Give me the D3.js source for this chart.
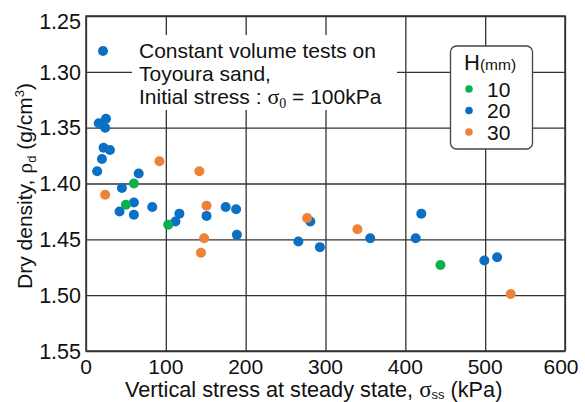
<!DOCTYPE html>
<html><head><meta charset="utf-8">
<script src="https://cdn.jsdelivr.net/npm/d3@7"></script>
<style>
body{margin:0;background:#fff}
svg{display:block}
text{font-family:Arial,"Liberation Sans",sans-serif;fill:#111}
.serif{font-family:"Liberation Serif","Times New Roman",serif}
</style>
</head><body>
<svg id="c" width="585" height="402"></svg>
<script>
// ---- data ----
const xTicks = [0, 100, 200, 300, 400, 500, 600];
const yTicks = [1.25, 1.30, 1.35, 1.40, 1.45, 1.50, 1.55];
const seriesNames = ["10", "20", "30"];
const seriesColors = ["#0DB04E", "#0B6FC4", "#EE8236"];

const h10Stress  = [60, 50, 103, 444];
const h10Density = [1.400, 1.419, 1.437, 1.473];

const h20Stress  = [16, 25, 24, 22, 30, 20, 14, 66, 45, 60, 42, 60, 83, 117, 112, 151, 175, 188, 189, 281, 266, 293, 356, 420, 413, 499, 515];
const h20Density = [1.346, 1.342, 1.350, 1.368, 1.370, 1.378, 1.389, 1.391, 1.404, 1.417, 1.425, 1.428, 1.421, 1.427, 1.434, 1.429, 1.421, 1.423, 1.446, 1.434, 1.452, 1.457, 1.449, 1.427, 1.449, 1.469, 1.466];

const h30Stress  = [24, 92, 142, 151, 148, 144, 277, 340, 532];
const h30Density = [1.410, 1.380, 1.389, 1.420, 1.449, 1.462, 1.431, 1.441, 1.499];

// ---- chart ----
const svg = d3.select("#c");
const L = 86, R = 565, T = 16, B = 351;
const x = d3.scaleLinear().domain([0, 600]).range([L, R]);
const y = d3.scaleLinear().domain([1.25, 1.55]).range([T, B]);
const gridColor = "#333";

// grid via axes
svg.append("g").attr("transform", `translate(0,${B})`)
  .call(d3.axisBottom(x).tickValues(xTicks).tickSize(-(B - T)).tickFormat(""))
  .call(g => g.select(".domain").remove())
  .call(g => g.selectAll("line").attr("stroke", gridColor).attr("stroke-width", 1.3));
svg.append("g").attr("transform", `translate(${L},0)`)
  .call(d3.axisLeft(y).tickValues(yTicks).tickSize(-(R - L)).tickFormat(""))
  .call(g => g.select(".domain").remove())
  .call(g => g.selectAll("line").attr("stroke", gridColor).attr("stroke-width", 1.3));

// frame
svg.append("rect").attr("x", L).attr("y", T).attr("width", R - L).attr("height", B - T)
  .attr("fill", "none").attr("stroke", gridColor).attr("stroke-width", 1.5);

// tick labels
svg.append("g").selectAll("text").data(yTicks).join("text")
  .attr("x", 81).attr("y", (d, i) => y(d) + (i === 0 ? 5 : 0)).attr("dy", "0.36em")
  .attr("text-anchor", "end").attr("font-size", 21.5).text(d => d.toFixed(2));
svg.append("g").selectAll("text").data(xTicks).join("text")
  .attr("x", d => x(d) + (d === 600 ? -4 : 0)).attr("y", 374)
  .attr("text-anchor", "middle").attr("font-size", 21).text(d => d);

// axis titles
const xt = svg.append("text").attr("x", 125).attr("y", 397).attr("font-size", 21.7);
xt.append("tspan").text("Vertical stress at steady state, ");
xt.append("tspan").attr("class", "serif").attr("font-size", 23).text("σ");
xt.append("tspan").attr("font-size", 13).attr("dy", 2).text("ss");
xt.append("tspan").attr("dy", -2).text(" (kPa)");

const yt = svg.append("text").attr("transform", "translate(32,186) rotate(-90)")
  .attr("text-anchor", "middle").attr("font-size", 21);
yt.append("tspan").text("Dry density, ");
yt.append("tspan").attr("class", "serif").attr("font-size", 22).text("ρ");
yt.append("tspan").attr("font-size", 13).attr("dy", 4).text("d");
yt.append("tspan").attr("dy", -4).text(" (g/cm");
yt.append("tspan").attr("font-size", 13).attr("dy", -8).text("3");
yt.append("tspan").attr("dy", 8).text(")");

// annotation box (white background)
svg.append("rect").attr("x", 132).attr("y", 35).attr("width", 265).attr("height", 75).attr("fill", "#fff");
svg.append("circle").attr("cx", 103).attr("cy", 51).attr("r", 5).attr("fill", seriesColors[1]);
const ann = svg.append("g").attr("font-size", 21);
ann.append("text").attr("x", 139).attr("y", 58).text("Constant volume tests on");
ann.append("text").attr("x", 139).attr("y", 81).text("Toyoura sand,");
const a3 = ann.append("text").attr("x", 139).attr("y", 104);
a3.append("tspan").text("Initial stress : ");
a3.append("tspan").attr("class", "serif").attr("font-size", 22).text("σ");
a3.append("tspan").attr("class", "serif").attr("font-size", 14).attr("dy", 4).text("0");
a3.append("tspan").attr("dy", -4).text(" = 100kPa");

// legend
svg.append("rect").attr("x", 450.5).attr("y", 46).attr("width", 82).attr("height", 103)
  .attr("rx", 6).attr("fill", "#fff").attr("stroke", "#444").attr("stroke-width", 1.3);
const lt = svg.append("text").attr("x", 464).attr("y", 70).attr("font-size", 22);
lt.append("tspan").text("H");
lt.append("tspan").attr("font-size", 15.5).text("(mm)");
const legY = [89, 110.5, 132];
const lg = svg.append("g").selectAll("g").data(seriesNames).join("g");
lg.append("circle").attr("cx", 469).attr("cy", (d, i) => legY[i]).attr("r", 3.8).attr("fill", (d, i) => seriesColors[i]);
lg.append("text").attr("x", 487).attr("y", (d, i) => legY[i]).attr("dy", "0.36em").attr("font-size", 21).text(d => d);

// points (blue first, then green, then orange)
const series = [
  { s: h20Stress, d: h20Density, c: seriesColors[1] },
  { s: h10Stress, d: h10Density, c: seriesColors[0] },
  { s: h30Stress, d: h30Density, c: seriesColors[2] }
];
series.forEach(sr => {
  svg.append("g").selectAll("circle").data(sr.s.map((v, i) => [v, sr.d[i]])).join("circle")
    .attr("cx", p => x(p[0])).attr("cy", p => y(p[1])).attr("r", 5).attr("fill", sr.c);
});
</script>
</body></html>
